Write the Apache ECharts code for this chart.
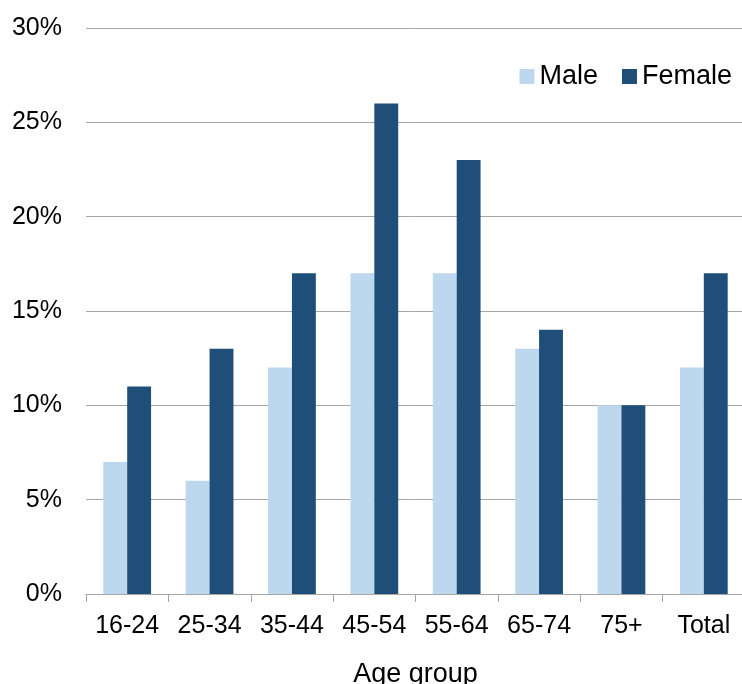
<!DOCTYPE html>
<html>
<head>
<meta charset="utf-8">
<script src="https://cdn.jsdelivr.net/npm/echarts@6/dist/echarts.min.js"></script>
<style>
  html, body { margin: 0; padding: 0; background: #fff; }
  #chart { width: 742px; height: 684px; }
</style>
</head>
<body>
<div id="chart"></div>
<script>
// Age groups and shares (percent) by sex
const ageGroups = ['16-24', '25-34', '35-44', '45-54', '55-64', '65-74', '75+', 'Total'];
const maleValues = [7, 6, 12, 17, 17, 13, 10, 12];
const femaleValues = [11, 13, 17, 26, 23, 14, 10, 17];
const yTicks = [0, 5, 10, 15, 20, 25, 30];

const chart = echarts.init(document.getElementById('chart'), null, { renderer: 'canvas' });
const font = 'Liberation Sans, Arial, sans-serif';

chart.setOption({
  animation: false,
  textStyle: { fontFamily: font },
  legend: {
    right: 5,
    top: 58,
    itemWidth: 15,
    itemHeight: 15,
    itemGap: 24,
    icon: 'rect',
    textStyle: { fontSize: 27, color: '#000', fontFamily: font },
    data: ['Male', 'Female']
  },
  grid: { left: 86, right: -3, top: 28, bottom: 90, containLabel: false, outerBoundsMode: 'none' },
  xAxis: {
    type: 'category',
    data: ageGroups,
    name: 'Age group',
    nameLocation: 'middle',
    nameGap: 67,
    nameTextStyle: { fontSize: 27, color: '#000', fontFamily: font },
    axisLine: { lineStyle: { color: '#a6a6a6', width: 1 } },
    axisTick: { show: true, length: 8, lineStyle: { color: '#a6a6a6' } },
    axisLabel: { interval: 0, hideOverlap: false, fontSize: 25, color: '#000', margin: 20, fontFamily: font }
  },
  yAxis: {
    type: 'value',
    min: yTicks[0],
    max: yTicks[yTicks.length - 1],
    interval: 5,
    axisLine: { show: false },
    axisTick: { show: false },
    axisLabel: { fontSize: 25, color: '#000', margin: 24, formatter: '{value}%', fontFamily: font },
    splitLine: { lineStyle: { color: '#a6a6a6', width: 1 } }
  },
  series: [
    {
      name: 'Male',
      type: 'bar',
      data: maleValues,
      barGap: '0%',
      barCategoryGap: '42%',
      itemStyle: { color: '#bdd7ee' }
    },
    {
      name: 'Female',
      type: 'bar',
      data: femaleValues,
      itemStyle: { color: '#1f4e79' }
    }
  ]
});
</script>
</body>
</html>
